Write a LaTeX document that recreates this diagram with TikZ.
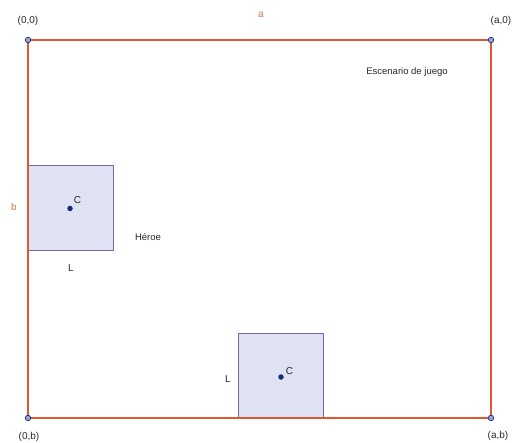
\documentclass[tikz,border=0pt]{standalone}
\usepackage{fontspec}
\setmainfont{Liberation Sans}
\definecolor{edgeorange}{RGB}{222,88,48}
\definecolor{sqfill}{RGB}{222,226,242}
\definecolor{sqdraw}{RGB}{112,104,178}
\definecolor{dotblue}{RGB}{24,44,120}
\definecolor{cornerfill}{RGB}{150,165,215}
\definecolor{lblbrown}{RGB}{200,118,78}
\definecolor{txtgrey}{RGB}{40,40,40}
\begin{document}
\begin{tikzpicture}[x=1pt,y=-1pt,
  cornerdot/.style={circle,draw=dotblue,fill=cornerfill,line width=0.7pt,inner sep=0pt,minimum size=5.5pt},
  cdot/.style={circle,fill=dotblue,inner sep=0pt,minimum size=5.5pt},
  square/.style={draw=sqdraw,fill=sqfill,line width=0.8pt,minimum size=85pt,inner sep=0pt},
  lbl/.style={font=\fontsize{10}{12}\selectfont,text=txtgrey,inner sep=0pt},
  sidelbl/.style={font=\fontsize{10}{12}\selectfont,text=lblbrown,inner sep=0pt}]
\useasboundingbox (0,0) rectangle (513,443);
\coordinate (tl) at (28,40);
\coordinate (tr) at (491,40);
\coordinate (bl) at (28,418);
\coordinate (br) at (491,418);
% squares
\node[square] (hero) at (70.5,207.5) {};
\node[square] (box) at (281,376) {};
% scene border
\draw[edgeorange,line width=1.1pt] (tl) -- (tr) -- (br) -- (bl) -- cycle;
% corner dots
\node[cornerdot] (ctl) at (tl) {};
\node[cornerdot] (ctr) at (tr) {};
\node[cornerdot] (cbl) at (bl) {};
\node[cornerdot] (cbr) at (br) {};
% centre dots
\node[cdot] (c1) at (70,208.5) {};
\node[cdot] (c2) at (281,377) {};
% labels
\node[lbl] (l00) at (28,21) {(0,0)};
\node[lbl] (la0) at (501,21) {(a,0)};
\node[lbl] (l0b) at (29,437) {(0,b)};
\node[lbl] (lab) at (498,436) {(a,b)};
\node[sidelbl] (la) at (261,15) {a};
\node[sidelbl] (lb) at (14,207) {b};
\node[lbl,font=\fontsize{9.5}{11}\selectfont] (esc) at (407,72) {Escenario de juego};
\node[lbl,font=\fontsize{9.5}{11}\selectfont] (heroe) at (148,237) {Héroe};
\node[lbl] (C1) at (77.5,200) {C};
\node[lbl] (C2) at (289.5,371) {C};
\node[lbl] (L1) at (71,268) {L};
\node[lbl] (L2) at (228,379) {L};
\end{tikzpicture}
\end{document}
